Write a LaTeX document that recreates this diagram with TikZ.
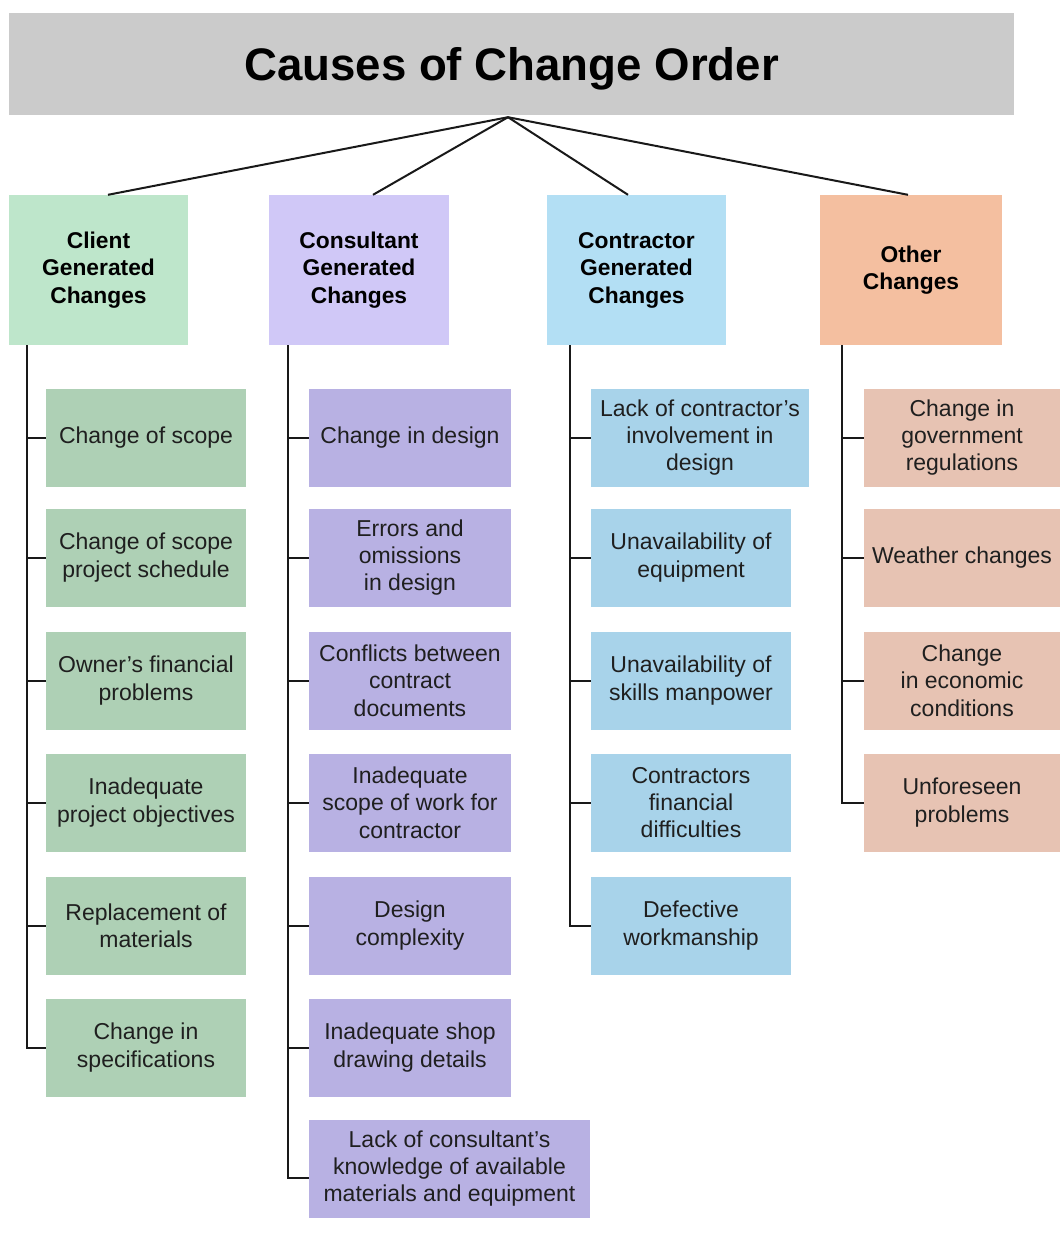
\documentclass[tikz,border=0pt]{standalone}
\usepackage{fontspec}
\setmainfont{Liberation Sans}
\definecolor{titlegray}{HTML}{CBCBCB}
\definecolor{clcat}{HTML}{BEE6CB}
\definecolor{cocat}{HTML}{D0C8F7}
\definecolor{trcat}{HTML}{B3DFF4}
\definecolor{otcat}{HTML}{F4BFA0}
\definecolor{clitem}{HTML}{AED0B5}
\definecolor{coitem}{HTML}{B8B1E3}
\definecolor{tritem}{HTML}{A8D3EA}
\definecolor{otitem}{HTML}{E7C3B3}
\begin{document}
\begin{tikzpicture}[x=1pt,y=-1pt,
  cat/.style={rectangle, inner sep=0pt, minimum height=150, align=center,
    font=\fontsize{22.8}{27.5}\selectfont\bfseries},
  item/.style={rectangle, inner sep=0pt, minimum height=98, align=center,
    font=\fontsize{23}{27.3}\selectfont, text=black!88},
  link/.style={line width=2pt, draw=black!90}]
\useasboundingbox (0,0) rectangle (1060,1243);
\fill[white] (0,0) rectangle (1060,1243);

% title
\node[rectangle, fill=titlegray, inner sep=0pt, minimum width=1005, minimum height=102,
  text depth=0pt, font=\fontsize{45.6}{50}\selectfont\bfseries] (title) at (511.5,64) {Causes of Change Order};
\coordinate (apex) at ([xshift=-3.5pt,yshift=-2pt]title.south);

% categories
\node[cat, fill=clcat, minimum width=179] (cl) at (98.5,270) {Client\\Generated\\Changes};
\node[cat, fill=cocat, minimum width=180] (co) at (359,270) {Consultant\\Generated\\Changes};
\node[cat, fill=trcat, minimum width=179] (tr) at (636.5,270) {Contractor\\Generated\\Changes};
\node[cat, fill=otcat, minimum width=182] (ot) at (911,270) {Other\\Changes};

\draw[link] (apex) -- ([xshift=9.5pt]cl.north);
\draw[link] (apex) -- ([xshift=14pt]co.north);
\draw[link] (apex) -- ([xshift=-8.5pt]tr.north);
\draw[link] (apex) -- ([xshift=-3pt]ot.north);

% client items
\node[item, fill=clitem, minimum width=200] (cl1) at (146,437.5) {Change of scope};
\node[item, fill=clitem, minimum width=200] (cl2) at (146,557.5) {Change of scope\\project schedule};
\node[item, fill=clitem, minimum width=200] (cl3) at (146,680.5) {Owner's financial\\problems};
\node[item, fill=clitem, minimum width=200] (cl4) at (146,802.5) {Inadequate\\project objectives};
\node[item, fill=clitem, minimum width=200] (cl5) at (146,925.5) {Replacement of\\materials};
\node[item, fill=clitem, minimum width=200] (cl6) at (146,1047.5) {Change in\\specifications};

% consultant items
\node[item, fill=coitem, minimum width=202] (co1) at (410,437.5) {Change in design};
\node[item, fill=coitem, minimum width=202] (co2) at (410,557.5) {Errors and\\omissions\\in design};
\node[item, fill=coitem, minimum width=202] (co3) at (410,680.5) {Conflicts between\\contract\\documents};
\node[item, fill=coitem, minimum width=202] (co4) at (410,802.5) {Inadequate\\scope of work for\\contractor};
\node[item, fill=coitem, minimum width=202] (co5) at (410,925.5) {Design\\complexity};
\node[item, fill=coitem, minimum width=202] (co6) at (410,1047.5) {Inadequate shop\\drawing details};
\node[item, fill=coitem, minimum width=281] (co7) at (449.5,1168.5) {Lack of consultant's\\knowledge of available\\materials and equipment};

% contractor items
\node[item, fill=tritem, minimum width=218] (tr1) at (700,437.5) {Lack of contractor's\\involvement in\\design};
\node[item, fill=tritem, minimum width=200] (tr2) at (691,557.5) {Unavailability of\\equipment};
\node[item, fill=tritem, minimum width=200] (tr3) at (691,680.5) {Unavailability of\\skills manpower};
\node[item, fill=tritem, minimum width=200] (tr4) at (691,802.5) {Contractors\\financial\\difficulties};
\node[item, fill=tritem, minimum width=200] (tr5) at (691,925.5) {Defective\\workmanship};

% other items
\node[item, fill=otitem, minimum width=196] (ot1) at (962,437.5) {Change in\\government\\regulations};
\node[item, fill=otitem, minimum width=196] (ot2) at (962,557.5) {Weather changes};
\node[item, fill=otitem, minimum width=196] (ot3) at (962,680.5) {Change\\in economic\\conditions};
\node[item, fill=otitem, minimum width=196] (ot4) at (962,802.5) {Unforeseen\\problems};

% trunks
\coordinate (clt) at ([xshift=18pt]cl.south west);
\coordinate (cot) at ([xshift=19pt]co.south west);
\coordinate (trt) at ([xshift=23pt]tr.south west);
\coordinate (ott) at ([xshift=22pt]ot.south west);

\draw[link] (clt) |- (cl6.west);
\foreach \i in {1,...,5} \draw[link] (cl\i.west) -- (cl\i.west -| clt);
\draw[link] (cot) |- ([yshift=-9pt]co7.west);
\foreach \i in {1,...,6} \draw[link] (co\i.west) -- (co\i.west -| cot);
\draw[link] (trt) |- (tr5.west);
\foreach \i in {1,...,4} \draw[link] (tr\i.west) -- (tr\i.west -| trt);
\draw[link] (ott) |- (ot4.west);
\foreach \i in {1,...,3} \draw[link] (ot\i.west) -- (ot\i.west -| ott);
\end{tikzpicture}
\end{document}
